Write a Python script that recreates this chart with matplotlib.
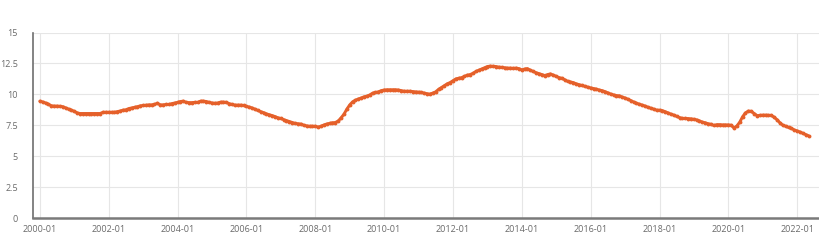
import matplotlib
matplotlib.use("Agg")
import matplotlib.pyplot as plt
import pandas as pd

# Monthly values, 2000-01 .. 2022-05
v2000 = [9.45, 9.38, 9.30, 9.20, 9.08, 9.05, 9.05, 9.03, 9.00, 8.90, 8.80, 8.72]
v2001 = [8.62, 8.50, 8.45, 8.45, 8.45, 8.45, 8.45, 8.45, 8.45, 8.45, 8.55, 8.55]
v2002 = [8.55, 8.55, 8.55, 8.60, 8.65, 8.72, 8.75, 8.85, 8.90, 8.95, 9.00, 9.07]
v2003 = [9.10, 9.12, 9.15, 9.15, 9.18, 9.28, 9.15, 9.15, 9.18, 9.18, 9.25, 9.30]
v2004 = [9.35, 9.42, 9.45, 9.35, 9.33, 9.33, 9.35, 9.35, 9.45, 9.45, 9.42, 9.35]
v2005 = [9.30, 9.28, 9.30, 9.37, 9.37, 9.35, 9.25, 9.18, 9.13, 9.13, 9.13, 9.10]
v2006 = [9.02, 8.97, 8.90, 8.80, 8.70, 8.60, 8.52, 8.42, 8.35, 8.28, 8.20, 8.10]
v2007 = [8.05, 7.95, 7.88, 7.80, 7.72, 7.65, 7.62, 7.60, 7.50, 7.45, 7.42, 7.42]
v2008 = [7.42, 7.35, 7.42, 7.52, 7.60, 7.65, 7.70, 7.72, 7.85, 8.10, 8.40, 8.80]
v2009 = [9.15, 9.40, 9.52, 9.62, 9.70, 9.80, 9.85, 9.95, 10.10, 10.15, 10.20, 10.30]
v2010 = [10.35, 10.37, 10.37, 10.37, 10.37, 10.35, 10.30, 10.25, 10.25, 10.25, 10.22, 10.20]
v2011 = [10.18, 10.15, 10.10, 10.05, 10.02, 10.10, 10.20, 10.40, 10.55, 10.70, 10.85, 10.95]
v2012 = [11.10, 11.25, 11.30, 11.35, 11.45, 11.55, 11.60, 11.70, 11.85, 11.95, 12.05, 12.15]
v2013 = [12.25, 12.28, 12.27, 12.25, 12.20, 12.18, 12.15, 12.12, 12.12, 12.10, 12.12, 12.08]
v2014 = [11.98, 12.05, 12.08, 11.95, 11.85, 11.75, 11.68, 11.60, 11.52, 11.60, 11.65, 11.55]
v2015 = [11.45, 11.35, 11.30, 11.18, 11.05, 11.00, 10.95, 10.85, 10.78, 10.72, 10.65, 10.58]
v2016 = [10.52, 10.47, 10.42, 10.35, 10.30, 10.22, 10.12, 10.02, 9.95, 9.90, 9.88, 9.78]
v2017 = [9.70, 9.60, 9.50, 9.38, 9.28, 9.20, 9.13, 9.05, 8.95, 8.88, 8.80, 8.72]
v2018 = [8.72, 8.68, 8.60, 8.50, 8.40, 8.32, 8.22, 8.12, 8.05, 8.05, 8.04, 8.02]
v2019 = [7.98, 7.93, 7.85, 7.75, 7.70, 7.62, 7.58, 7.48, 7.55, 7.55, 7.53, 7.53]
v2020 = [7.53, 7.50, 7.28, 7.45, 7.75, 8.20, 8.50, 8.65, 8.62, 8.45, 8.28, 8.30]
v2021 = [8.32, 8.32, 8.30, 8.30, 8.15, 7.95, 7.70, 7.50, 7.42, 7.32, 7.25, 7.12]
v2022 = [7.04, 6.95, 6.85, 6.75, 6.65]

values = (v2000 + v2001 + v2002 + v2003 + v2004 + v2005 + v2006 + v2007 + v2008
          + v2009 + v2010 + v2011 + v2012 + v2013 + v2014 + v2015 + v2016 + v2017
          + v2018 + v2019 + v2020 + v2021 + v2022)
dates = pd.date_range("2000-01-01", periods=len(values), freq="MS")

x_ticks = ["2000-01", "2002-01", "2004-01", "2006-01", "2008-01", "2010-01",
           "2012-01", "2014-01", "2016-01", "2018-01", "2020-01", "2022-01"]
y_ticks = [0, 2.5, 5, 7.5, 10, 12.5, 15]
y_labels = ["0", "2.5", "5", "7.5", "10", "12.5", "15"]

plt.rcParams['font.family'] = ['Open Sans', 'DejaVu Sans']

W, H = 820, 248
fig = plt.figure(figsize=(W / 100, H / 100), dpi=100)
ax = fig.add_axes([33 / W, (H - 218) / H, (819 - 33) / W, (218 - 32.5) / H])

ax.plot(dates, values, color="#e5602a", lw=2.1, marker="o", ms=2.8,
        markeredgewidth=0, solid_capstyle="round")

ax.set_ylim(0, 15)
ax.set_yticks(y_ticks)
ax.set_yticklabels(y_labels)
ax.set_xticks(pd.to_datetime(x_ticks))
ax.set_xticklabels(x_ticks)
ax.set_xlim(pd.Timestamp("1999-10-20"), pd.Timestamp("2022-08-20"))

ax.grid(True, color="#e6e6e6", lw=0.8)
ax.set_axisbelow(True)
for s in ["top", "right"]:
    ax.spines[s].set_visible(False)
ax.spines["left"].set_color("#6e6e6e")
ax.spines["left"].set_linewidth(1.2)
ax.spines["bottom"].set_color("#7a7a7a")
ax.spines["bottom"].set_linewidth(1.8)
ax.tick_params(axis="both", length=0, labelsize=6.5, labelcolor="#6a6a6a")
ax.tick_params(axis="y", pad=11)
ax.tick_params(axis="x", pad=5)

fig.savefig("out.png", dpi=100)
